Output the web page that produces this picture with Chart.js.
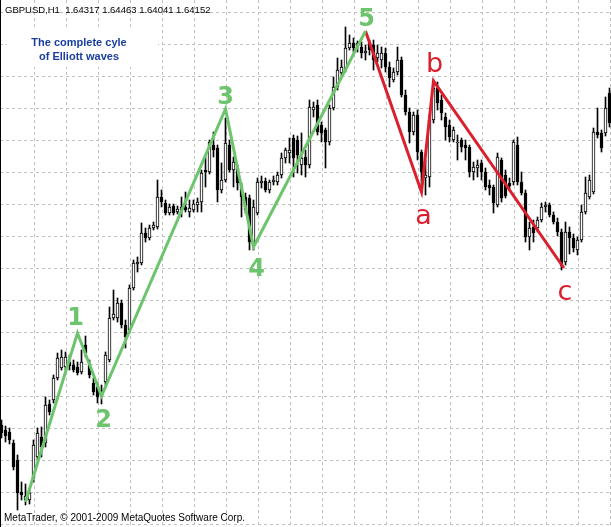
<!DOCTYPE html>
<html>
<head>
<meta charset="utf-8">
<title>GBPUSD H1 - Elliott waves</title>
<script src="https://cdn.jsdelivr.net/npm/chart.js@4.4.1/dist/chart.umd.min.js"></script>
<style>
  html, body { margin: 0; padding: 0; background: #fff; }
  #wrap { width: 611px; height: 527px; }
</style>
</head>
<body>
<div id="wrap"><canvas id="grafico" width="611" height="527"></canvas></div>
<script>
// GBPUSD H1 bars (one bar every 4 px)
const apertura = [1.6113,1.6108,1.6106,1.6095,1.6078,1.6046,1.6038,1.6038,1.6060,1.6081,
  1.6101,1.6095,1.6134,1.6138,1.6160,1.6170,1.6171,1.6176,1.6173,1.6171,
  1.6166,1.6193,1.6173,1.6155,1.6151,1.6148,1.6156,1.6178,1.6220,1.6220,
  1.6235,1.6213,1.6208,1.6250,1.6274,1.6275,1.6305,1.6300,1.6310,1.6311,
  1.6341,1.6335,1.6325,1.6332,1.6326,1.6328,1.6331,1.6326,1.6328,1.6333,
  1.6336,1.6368,1.6366,1.6393,1.6390,1.6348,1.6358,1.6393,1.6368,1.6370,
  1.6351,1.6341,1.6340,1.6295,1.6325,1.6355,1.6357,1.6348,1.6356,1.6356,
  1.6363,1.6380,1.6385,1.6400,1.6398,1.6373,1.6381,1.6373,1.6428,1.6433,
  1.6413,1.6408,1.6396,1.6430,1.6451,1.6465,1.6468,1.6490,1.6495,1.6492,
  1.6491,1.6485,1.6495,1.6493,1.6480,1.6478,1.6485,1.6471,1.6458,1.6466,
  1.6478,1.6443,1.6426,1.6406,1.6423,1.6386,1.6360,1.6361,1.6418,1.6450,
  1.6438,1.6421,1.6413,1.6398,1.6395,1.6398,1.6393,1.6391,1.6366,1.6370,
  1.6375,1.6366,1.6353,1.6351,1.6333,1.6378,1.6363,1.6355,1.6356,1.6393,
  1.6356,1.6345,1.6301,1.6311,1.6310,1.6318,1.6331,1.6333,1.6323,1.6316,
  1.6306,1.6276,1.6306,1.6300,1.6288,1.6298,1.6326,1.6341,1.6346,1.6406,
  1.6405,1.6405,1.6445];
const maximo = [1.6118,1.6112,1.6110,1.6098,1.6083,1.6056,1.6054,1.6050,1.6098,1.6110,
  1.6111,1.6141,1.6138,1.6163,1.6185,1.6188,1.6186,1.6183,1.6178,1.6176,
  1.6188,1.6202,1.6178,1.6160,1.6156,1.6153,1.6186,1.6231,1.6248,1.6240,
  1.6238,1.6218,1.6253,1.6278,1.6281,1.6315,1.6310,1.6313,1.6316,1.6358,
  1.6348,1.6338,1.6334,1.6334,1.6332,1.6341,1.6346,1.6338,1.6338,1.6340,
  1.6368,1.6381,1.6398,1.6406,1.6393,1.6375,1.6420,1.6398,1.6381,1.6373,
  1.6355,1.6345,1.6343,1.6338,1.6360,1.6362,1.6360,1.6358,1.6362,1.6366,
  1.6385,1.6390,1.6400,1.6403,1.6402,1.6405,1.6388,1.6438,1.6436,1.6438,
  1.6416,1.6410,1.6433,1.6461,1.6480,1.6478,1.6511,1.6503,1.6500,1.6497,
  1.6496,1.6493,1.6498,1.6498,1.6493,1.6491,1.6490,1.6476,1.6470,1.6491,
  1.6481,1.6448,1.6430,1.6426,1.6428,1.6388,1.6378,1.6423,1.6455,1.6456,
  1.6443,1.6425,1.6418,1.6411,1.6403,1.6400,1.6398,1.6393,1.6376,1.6378,
  1.6378,1.6370,1.6358,1.6353,1.6385,1.6380,1.6368,1.6360,1.6398,1.6401,
  1.6366,1.6348,1.6316,1.6318,1.6321,1.6335,1.6336,1.6335,1.6326,1.6320,
  1.6309,1.6316,1.6311,1.6304,1.6301,1.6333,1.6361,1.6363,1.6410,1.6430,
  1.6408,1.6441,1.6450];
const minimo = [1.6100,1.6096,1.6094,1.6068,1.6028,1.6038,1.6033,1.6034,1.6056,1.6078,
  1.6081,1.6091,1.6123,1.6135,1.6158,1.6168,1.6168,1.6168,1.6166,1.6163,
  1.6164,1.6181,1.6160,1.6143,1.6135,1.6134,1.6153,1.6176,1.6218,1.6216,
  1.6210,1.6190,1.6205,1.6248,1.6266,1.6273,1.6296,1.6298,1.6308,1.6309,
  1.6331,1.6323,1.6323,1.6323,1.6324,1.6321,1.6326,1.6321,1.6326,1.6326,
  1.6326,1.6351,1.6364,1.6381,1.6336,1.6345,1.6356,1.6366,1.6351,1.6348,
  1.6321,1.6325,1.6288,1.6288,1.6323,1.6350,1.6346,1.6345,1.6353,1.6353,
  1.6360,1.6375,1.6375,1.6361,1.6365,1.6363,1.6361,1.6370,1.6421,1.6403,
  1.6396,1.6370,1.6393,1.6428,1.6448,1.6462,1.6466,1.6488,1.6486,1.6486,
  1.6480,1.6478,1.6483,1.6468,1.6476,1.6470,1.6466,1.6451,1.6456,1.6463,
  1.6441,1.6423,1.6395,1.6403,1.6378,1.6348,1.6343,1.6351,1.6415,1.6428,
  1.6418,1.6398,1.6396,1.6396,1.6378,1.6386,1.6378,1.6361,1.6358,1.6361,
  1.6358,1.6348,1.6343,1.6325,1.6331,1.6336,1.6340,1.6348,1.6353,1.6353,
  1.6343,1.6296,1.6288,1.6296,1.6306,1.6316,1.6326,1.6321,1.6314,1.6302,
  1.6268,1.6273,1.6284,1.6286,1.6283,1.6296,1.6324,1.6339,1.6344,1.6400,
  1.6386,1.6402,1.6411];
const cierre = [1.6105,1.6102,1.6098,1.6071,1.6045,1.6043,1.6042,1.6045,1.6093,1.6105,
  1.6091,1.6133,1.6126,1.6160,1.6180,1.6181,1.6181,1.6172,1.6168,1.6165,
  1.6176,1.6185,1.6163,1.6146,1.6141,1.6142,1.6183,1.6220,1.6224,1.6235,
  1.6213,1.6201,1.6250,1.6275,1.6276,1.6305,1.6300,1.6310,1.6313,1.6341,
  1.6336,1.6325,1.6331,1.6325,1.6329,1.6331,1.6328,1.6330,1.6334,1.6336,
  1.6365,1.6366,1.6396,1.6388,1.6348,1.6358,1.6395,1.6368,1.6376,1.6355,
  1.6341,1.6328,1.6296,1.6331,1.6356,1.6357,1.6348,1.6356,1.6358,1.6363,
  1.6380,1.6388,1.6388,1.6380,1.6383,1.6380,1.6373,1.6431,1.6431,1.6406,
  1.6405,1.6396,1.6430,1.6451,1.6468,1.6471,1.6490,1.6495,1.6490,1.6495,
  1.6485,1.6487,1.6488,1.6478,1.6485,1.6485,1.6471,1.6460,1.6466,1.6478,
  1.6443,1.6426,1.6406,1.6423,1.6386,1.6366,1.6363,1.6418,1.6450,1.6435,
  1.6425,1.6411,1.6401,1.6408,1.6396,1.6391,1.6390,1.6366,1.6371,1.6373,
  1.6366,1.6351,1.6350,1.6335,1.6381,1.6340,1.6342,1.6352,1.6396,1.6356,
  1.6345,1.6301,1.6310,1.6305,1.6318,1.6331,1.6333,1.6323,1.6316,1.6306,
  1.6272,1.6306,1.6300,1.6290,1.6298,1.6326,1.6345,1.6358,1.6406,1.6403,
  1.6390,1.6430,1.6415];

// Elliott waves: bar index and price of each turning point
const impulsoIdx = [6, 19, 25, 56, 63, 91];
const impulsoPrecio = [1.6036, 1.6205, 1.6142, 1.6429, 1.6291, 1.6507];
const impulsoNombres = ["", "1", "2", "3", "4", "5"];
const correccionIdx = [91, 105, 108, 140.6];
const correccionPrecio = [1.6507, 1.6346, 1.6457, 1.6270];
const correccionNombres = ["", "a", "b", "c"];

const simbolo = "GBPUSD,H1";
const ultimaBarra = ["1.64317", "1.64463", "1.64041", "1.64152"];
const titulo = ["The complete cyle", "of Elliott waves"];
const copyright = "MetaTrader, \u00A9 2001-2009 MetaQuotes Software Corp.";

const verde = "#6cc46c";
const rojo = "#dc1f2d";

// offsets of the wave numbers from their turning point (px)
const desplImpulso = [[0, 0], [-2, -14], [2, 25], [0, -11], [3, 23], [1, -11]];
const desplCorreccion = [[0, 0], [2, 25], [1, -16], [1, 25]];

const velas = apertura.map((o, i) => ({ x: i, y: [o, cierre[i]] }));
const mechas = maximo.map((h, i) => ({ x: i, y: [minimo[i], h] }));
const colorVela = apertura.map((o, i) => (cierre[i] > o ? "#ffffff" : "#000000"));

const impulso = impulsoIdx.map((x, i) => ({ x: x, y: impulsoPrecio[i] }));
const correccion = correccionIdx.map((x, i) => ({ x: x, y: correccionPrecio[i] }));

const textos = {
  id: "textos",
  beforeDatasetsDraw(chart) {
    const ctx = chart.ctx;
    ctx.save();
    ctx.fillStyle = "#ffffff";
    ctx.fillRect(7, 30, 151, 37);
    ctx.fillStyle = "#1a3da0";
    ctx.font = "bold 11px 'Liberation Sans', Arial, sans-serif";
    ctx.textAlign = "center";
    ctx.textBaseline = "middle";
    ctx.fillText(titulo[0], 79, 43);
    ctx.fillText(titulo[1], 79, 57);
    ctx.restore();
  },
  afterDraw(chart) {
    const ctx = chart.ctx;
    const sx = chart.scales.x;
    const sy = chart.scales.y;
    ctx.save();
    // wave labels
    ctx.textAlign = "center";
    ctx.textBaseline = "middle";
    ctx.font = "bold 24px 'DejaVu Sans', sans-serif";
    ctx.fillStyle = verde;
    impulso.forEach((p, i) => {
      if (!impulsoNombres[i]) return;
      ctx.fillText(impulsoNombres[i], sx.getPixelForValue(p.x) + desplImpulso[i][0],
        sy.getPixelForValue(p.y) + desplImpulso[i][1]);
    });
    ctx.font = "27px 'DejaVu Sans', sans-serif";
    ctx.fillStyle = rojo;
    correccion.forEach((p, i) => {
      if (!correccionNombres[i]) return;
      ctx.fillText(correccionNombres[i], sx.getPixelForValue(p.x) + desplCorreccion[i][0],
        sy.getPixelForValue(p.y) + desplCorreccion[i][1]);
    });
    // header and footer
    ctx.textAlign = "left";
    ctx.textBaseline = "alphabetic";
    ctx.fillStyle = "#000000";
    ctx.font = "9.5px 'Liberation Sans', Arial, sans-serif";
    ctx.fillText(simbolo + "  " + ultimaBarra.join(" "), 5, 13);
    ctx.font = "10px 'Liberation Sans', Arial, sans-serif";
    ctx.fillText(copyright, 4, 521);
    // window frame on the left
    ctx.fillRect(0, 0, 1, chart.height);
    ctx.restore();
  }
};

const pasoX = 8;
const pasoPrecio = 0.0032;

new Chart(document.getElementById("grafico"), {
  type: "bar",
  data: {
    datasets: [
      {
        type: "line",
        data: impulso,
        borderColor: verde,
        borderWidth: 3,
        borderJoinStyle: "miter",
        pointRadius: 0,
        fill: false,
        order: 0
      },
      {
        type: "line",
        data: correccion,
        borderColor: rojo,
        borderWidth: 3,
        borderJoinStyle: "miter",
        pointRadius: 0,
        fill: false,
        order: 0
      },
      {
        data: velas,
        backgroundColor: colorVela,
        borderColor: "#000000",
        borderWidth: 1,
        borderSkipped: false,
        barThickness: 3,
        grouped: false,
        order: 1
      },
      {
        data: mechas,
        backgroundColor: "#000000",
        borderWidth: 0,
        barThickness: 1,
        grouped: false,
        order: 2
      }
    ]
  },
  options: {
    responsive: false,
    animation: false,
    events: [],
    layout: { padding: 0 },
    plugins: { legend: { display: false }, tooltip: { enabled: false } },
    scales: {
      x: {
        type: "linear",
        min: -0.375,
        max: 152.375,
        offset: false,
        afterBuildTicks: (s) => {
          const t = [];
          for (let v = 8.25; v < s.max; v += pasoX) t.push({ value: v });
          s.ticks = t;
        },
        ticks: { display: false },
        grid: { color: "#c0c0c0", lineWidth: 1, drawTicks: false, offset: false },
        border: { display: false, dash: [3, 3] }
      },
      y: {
        min: 1.6011,
        max: 1.6538,
        afterBuildTicks: (s) => {
          const t = [];
          for (let v = 1.65255; v > s.min; v -= pasoPrecio) t.push({ value: v });
          s.ticks = t;
        },
        ticks: { display: false },
        grid: { color: "#c0c0c0", lineWidth: 1, drawTicks: false },
        border: { display: false, dash: [3, 3] }
      }
    }
  },
  plugins: [textos]
});
</script>
</body>
</html>
